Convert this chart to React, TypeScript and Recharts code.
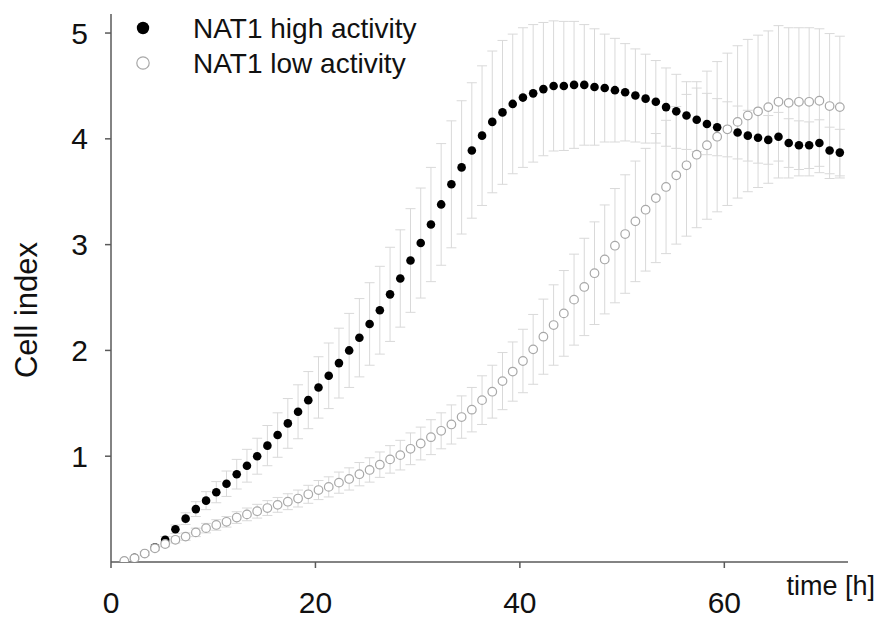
import React from 'react';
import { ScatterChart, Scatter, XAxis, YAxis, ErrorBar, Legend } from 'recharts';

const times = [
  1.3, 2.3, 3.3, 4.3, 5.3, 6.3, 7.3, 8.3, 9.3, 10.3,
  11.3, 12.3, 13.3, 14.3, 15.3, 16.3, 17.3, 18.3, 19.3, 20.3,
  21.3, 22.3, 23.3, 24.3, 25.3, 26.3, 27.3, 28.3, 29.3, 30.3,
  31.3, 32.3, 33.3, 34.3, 35.3, 36.3, 37.3, 38.3, 39.3, 40.3,
  41.3, 42.3, 43.3, 44.3, 45.3, 46.3, 47.3, 48.3, 49.3, 50.3,
  51.3, 52.3, 53.3, 54.3, 55.3, 56.3, 57.3, 58.3, 59.3, 60.3,
  61.3, 62.3, 63.3, 64.3, 65.3, 66.3, 67.3, 68.3, 69.3, 70.3,
  71.3,
];

const highMean = [
  0.01, 0.04, 0.08, 0.14, 0.21, 0.31, 0.41, 0.5, 0.58, 0.66,
  0.74, 0.83, 0.91, 1.0, 1.1, 1.2, 1.31, 1.42, 1.53, 1.65,
  1.76, 1.88, 2.0, 2.12, 2.25, 2.38, 2.53, 2.68, 2.85, 3.015,
  3.19, 3.38, 3.57, 3.73, 3.89, 4.03, 4.16, 4.25, 4.33, 4.39,
  4.43, 4.47, 4.5, 4.5, 4.51, 4.51, 4.49, 4.48, 4.46, 4.44,
  4.41, 4.38, 4.35, 4.3, 4.26, 4.22, 4.18, 4.14, 4.11, 4.09,
  4.06, 4.03, 4.01, 3.99, 4.02, 3.96, 3.94, 3.94, 3.96, 3.89,
  3.87,
];

const highSd = [
  0.005, 0.01, 0.015, 0.02, 0.03, 0.04, 0.055, 0.07, 0.085, 0.1,
  0.12, 0.14, 0.155, 0.17, 0.19, 0.21, 0.235, 0.255, 0.27, 0.29,
  0.31, 0.33, 0.35, 0.37, 0.39, 0.415, 0.445, 0.46, 0.49, 0.52,
  0.54, 0.575, 0.6, 0.63, 0.64, 0.66, 0.67, 0.68, 0.66, 0.66,
  0.65, 0.63, 0.615, 0.61, 0.6, 0.57, 0.55, 0.51, 0.49, 0.46,
  0.44, 0.42, 0.39, 0.37, 0.35, 0.32, 0.3, 0.29, 0.27, 0.26,
  0.25, 0.24, 0.24, 0.23, 0.23, 0.23, 0.23, 0.22, 0.22, 0.22,
  0.22,
];

const lowMean = [
  0.01, 0.035, 0.08, 0.13, 0.17, 0.21, 0.24, 0.28, 0.32, 0.35,
  0.38, 0.42, 0.45, 0.48, 0.51, 0.54, 0.57, 0.6, 0.64, 0.68,
  0.71, 0.75, 0.785, 0.83, 0.87, 0.92, 0.97, 1.01, 1.07, 1.12,
  1.18, 1.24, 1.3, 1.37, 1.44, 1.53, 1.61, 1.71, 1.8, 1.9,
  2.01, 2.13, 2.24, 2.35, 2.48, 2.6, 2.73, 2.86, 2.99, 3.1,
  3.22, 3.33, 3.44, 3.545, 3.655, 3.75, 3.85, 3.94, 4.02, 4.09,
  4.16, 4.22, 4.26, 4.3, 4.35, 4.34, 4.35, 4.35, 4.36, 4.31,
  4.3,
];

const lowSd = [
  0.005, 0.01, 0.015, 0.02, 0.025, 0.03, 0.035, 0.04, 0.045, 0.05,
  0.05, 0.055, 0.06, 0.065, 0.07, 0.07, 0.075, 0.08, 0.085, 0.09,
  0.095, 0.1, 0.105, 0.11, 0.115, 0.12, 0.13, 0.14, 0.15, 0.155,
  0.165, 0.17, 0.185, 0.2, 0.21, 0.23, 0.25, 0.27, 0.28, 0.3,
  0.33, 0.355, 0.38, 0.405, 0.43, 0.46, 0.485, 0.515, 0.54, 0.56,
  0.57, 0.58, 0.61, 0.63, 0.65, 0.67, 0.69, 0.7, 0.71, 0.72,
  0.72, 0.72, 0.72, 0.72, 0.72, 0.71, 0.7, 0.7, 0.68, 0.685,
  0.67,
];

const xTicks = [0, 20, 40, 60];
const yTicks = [1, 2, 3, 4, 5];
const seriesNames = ['NAT1 high activity', 'NAT1 low activity'];
const xTitle = 'time [h]';
const yTitle = 'Cell index';

const highData = times.map((t, i) => ({ t, v: highMean[i], sd: highSd[i] }));
const lowData = times.map((t, i) => ({ t, v: lowMean[i], sd: lowSd[i] }));

const FONT = '"Liberation Sans", Arial, Helvetica, sans-serif';
const AXIS = '#5a5a5a';
const ERR = '#d9d9d9';
const OPEN = '#a8a8a8';

const HighDot = (p: any) => <circle cx={p.cx} cy={p.cy} r={4.3} fill="#000" />;
const LowDot = (p: any) => (
  <circle cx={p.cx} cy={p.cy} r={4.3} fill="#fff" stroke={OPEN} strokeWidth={1.2} />
);

const LegendBox = () => (
  <svg width={460} height={90} style={{ display: 'block' }}>
    <circle cx={143} cy={28} r={6.2} fill="#000" />
    <circle cx={143} cy={63} r={6.2} fill="#fff" stroke={OPEN} strokeWidth={1.2} />
    <text x={193} y={28} dy="0.35em" fontSize={28} fontFamily={FONT} fill="#111">
      {seriesNames[0]}
    </text>
    <text x={193} y={63} dy="0.35em" fontSize={28} fontFamily={FONT} fill="#111">
      {seriesNames[1]}
    </text>
  </svg>
);

const XTitle = (props: any) => {
  const vb = props.viewBox || {};
  return (
    <text
      x={vb.x + vb.width + 27}
      y={vb.y + 24}
      dy="0.35em"
      textAnchor="end"
      fontSize={27}
      fontFamily={FONT}
      fill="#111"
    >
      {xTitle}
    </text>
  );
};

const YTitle = (props: any) => {
  const vb = props.viewBox || {};
  const cx = vb.x - 25;
  const cy = vb.y + vb.height / 2 + 22;
  return (
    <text
      x={cx}
      y={cy}
      dy="0.35em"
      textAnchor="middle"
      transform={`rotate(-90 ${cx} ${cy})`}
      fontSize={31}
      fontFamily={FONT}
      fill="#111"
    >
      {yTitle}
    </text>
  );
};

export default function App() {
  return (
    <div style={{ position: 'absolute', left: 0, top: 0, width: 880, height: 621, background: '#fff' }}>
      <ScatterChart
        width={880}
        height={621}
        margin={{ top: 14, right: 32, bottom: 9, left: 51 }}
      >
        <XAxis
          type="number"
          dataKey="t"
          domain={[0, 72.1]}
          ticks={xTicks}
          allowDataOverflow
          height={50}
          stroke={AXIS}
          strokeWidth={1.5}
          tickSize={6}
          tickMargin={24}
          tick={{ fill: '#111', fontSize: 30, fontFamily: FONT }}
          label={<XTitle />}
        />
        <YAxis
          type="number"
          dataKey="v"
          domain={[0, 5.18]}
          ticks={yTicks}
          allowDataOverflow
          width={60}
          stroke={AXIS}
          strokeWidth={1.5}
          tickSize={6}
          tickMargin={17}
          tick={{ fill: '#111', fontSize: 30, fontFamily: FONT }}
          label={<YTitle />}
        />
        <Legend
          layout="vertical"
          align="center"
          verticalAlign="middle"
          wrapperStyle={{ left: 0, top: 0, width: 460, height: 90 }}
          content={() => <LegendBox />}
        />
        <Scatter
          name={seriesNames[0]}
          data={highData}
          dataKey="v"
          shape={HighDot}
          isAnimationActive={false}
        >
          <ErrorBar dataKey="sd" direction="y" width={5} stroke={ERR} strokeWidth={1} isAnimationActive={false} />
        </Scatter>
        <Scatter
          name={seriesNames[1]}
          data={lowData}
          dataKey="v"
          shape={LowDot}
          isAnimationActive={false}
        >
          <ErrorBar dataKey="sd" direction="y" width={5} stroke={ERR} strokeWidth={1} isAnimationActive={false} />
        </Scatter>
      </ScatterChart>
    </div>
  );
}
